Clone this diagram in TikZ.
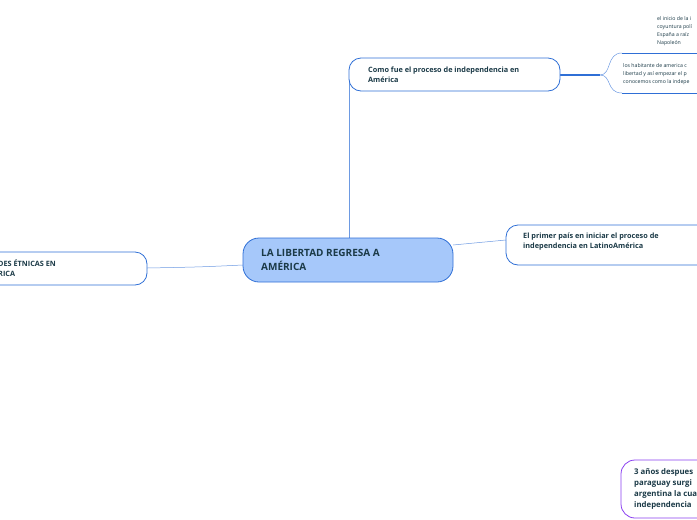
\documentclass[tikz,border=0pt]{standalone}
\usepackage{fontspec}
\setmainfont{Open Sans}
\definecolor{edge}{HTML}{2F6FD6}
\definecolor{mainfill}{HTML}{A6C8FA}
\definecolor{ink}{HTML}{1B3A47}
\definecolor{lilac}{HTML}{8A3FF0}
\begin{document}
\begin{tikzpicture}[x=1pt,y=-1pt]
\tikzstyle{topic} = [draw=edge,fill=white,rounded corners=12pt,thick]
\tikzstyle{lbl} = [font=\bfseries\fontsize{7.3}{10}\selectfont,text=ink,align=left,anchor=west,inner sep=0pt]
\tikzstyle{note} = [font=\fontsize{5.2}{8}\selectfont,text=ink,align=left,anchor=north west,inner sep=0pt]
\tikzstyle{link} = [draw=edge!70,line width=0.5pt]
\useasboundingbox (0,0) rectangle (697,520);
\clip (0,0) rectangle (697,520);
%%%%%% Enlaces
\draw[link] (349,238) -- (349,75);
\draw[link] (453,245) .. controls (480,242) .. (506,240);
\draw[link] (243,265) .. controls (200,267) .. (147,268);
\draw[edge,line width=1.2pt] (560,75) -- (600,75);
\draw[link] (600,75) .. controls (612,75) and (606,53) .. (622,53);
\draw[link] (600,75) .. controls (612,75) and (606,93) .. (622,93);
%%%%%% Tema central
\draw[draw=edge,fill=mainfill,rounded corners=16pt,thick] (243,238) rectangle (453,282);
\node[lbl,font=\bfseries\fontsize{10}{14}\selectfont] (main) at (261,260) {LA LIBERTAD REGRESA A\\AMÉRICA};
%%%%%% Subtemas
\draw[topic] (349,58) rectangle (560,91);
\node[lbl] (proceso) at (368,74.5) {Como fue el proceso de independencia en\\América};
\draw[topic] (506,225) rectangle (720,265);
\node[lbl] (primer) at (523,242) {El primer país en iniciar el proceso de\\independencia en LatinoAmérica};
\draw[topic] (-60,252) rectangle (147,285);
\node[lbl] (etnicas) at (-2,268.5) {DES ÉTNICAS EN\\RICA};
\draw[draw=lilac,fill=white,rounded corners=14pt,thick] (621,460) rectangle (740,518);
\node[lbl,font=\bfseries\fontsize{7.8}{11}\selectfont] (despues) at (634,489) {3 años despues\\paraguay surgi\\argentina la cua\\independencia};
%%%%%% Notas
\node[note] (inicio) at (657,16) {el inicio de la i\\coyuntura polí\\España a raíz\\Napoleón};
\draw[edge,line width=0.8pt] (622,53) -- (697,53);
\node[note] (habitante) at (623,63) {los habitante de america c\\libertad y así empezar el p\\conocemos como la indepe};
\draw[edge,line width=0.8pt] (622,93) -- (697,93);
\end{tikzpicture}
\end{document}
